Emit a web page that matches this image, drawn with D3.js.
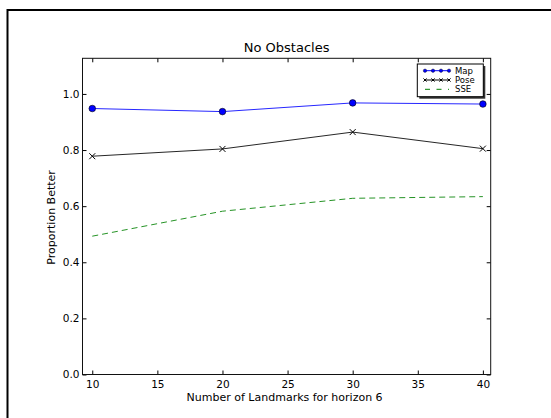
<!DOCTYPE html>
<html>
<head>
<meta charset="utf-8">
<script src="https://cdn.jsdelivr.net/npm/d3@7"></script>
<style>
  html, body { margin: 0; padding: 0; background: #fff; }
  svg { display: block; }
  text { font-family: "DejaVu Sans", sans-serif; fill: #000; }
</style>
</head>
<body>
<svg id="chart" width="551" height="418"></svg>
<script>
// ---- data ----
const landmarks = [10, 20, 30, 40];
const mapValues = [0.948, 0.937, 0.968, 0.964];
const poseValues = [0.778, 0.804, 0.864, 0.805];
const sseValues = [0.493, 0.582, 0.628, 0.634];
const xTicks = [10, 15, 20, 25, 30, 35, 40];
const yTicks = [0.0, 0.2, 0.4, 0.6, 0.8, 1.0];
const seriesNames = ["Map", "Pose", "SSE"];
const titleText = "No Obstacles";
const xLabelText = "Number of Landmarks for horizon 6";
const yLabelText = "Proportion Better";

// ---- layout ----
const svg = d3.select("#chart");
const pL = 82.5, pR = 490.7, pT = 58.3, pB = 374.5;

svg.append("rect").attr("x", 0).attr("y", 0).attr("width", 551).attr("height", 418).attr("fill", "#fff");
// outer figure frame (cropped)
svg.append("rect").attr("x", 7.5).attr("y", 10).attr("width", 560).attr("height", 430)
  .attr("fill", "none").attr("stroke", "#000").attr("stroke-width", 2);

const x = d3.scaleLinear().domain([9.25, 40.6]).range([pL, pR]);
const y = d3.scaleLinear().domain([0, 1.127]).range([pB, pT]);

// axes with inward ticks on all four sides
const tickLen = 4;
const gB = svg.append("g").attr("transform", `translate(0,${pB})`)
  .call(d3.axisBottom(x).tickValues(xTicks).tickFormat(d3.format("d")).tickSizeInner(-tickLen).tickSizeOuter(0).tickPadding(6));
const gT = svg.append("g").attr("transform", `translate(0,${pT})`)
  .call(d3.axisTop(x).tickValues(xTicks).tickFormat("").tickSizeInner(-tickLen).tickSizeOuter(0));
const gL = svg.append("g").attr("transform", `translate(${pL},0)`)
  .call(d3.axisLeft(y).tickValues(yTicks).tickFormat(d3.format(".1f")).tickSizeInner(-tickLen).tickSizeOuter(0).tickPadding(3));
const gR = svg.append("g").attr("transform", `translate(${pR},0)`)
  .call(d3.axisRight(y).tickValues(yTicks).tickFormat("").tickSizeInner(-tickLen).tickSizeOuter(0));
[gB, gT, gL, gR].forEach(g => {
  g.select(".domain").remove();
  g.selectAll(".tick line").attr("stroke", "#000");
  g.selectAll(".tick text").attr("font-size", 10.5).style("font-family", "DejaVu Sans").attr("fill", "#222");
});

// plot frame
svg.append("rect").attr("x", pL).attr("y", pT).attr("width", pR - pL).attr("height", pB - pT)
  .attr("fill", "none").attr("stroke", "#111").attr("stroke-width", 1);

// series
const line = vals => d3.line().x((d, i) => x(landmarks[i])).y(d => y(d))(vals);

svg.append("path").attr("d", line(sseValues)).attr("fill", "none")
  .attr("stroke", "#008000").attr("stroke-width", 1).attr("stroke-dasharray", "6,4").attr("opacity", 0.85);
svg.append("path").attr("d", line(poseValues)).attr("fill", "none")
  .attr("stroke", "#000").attr("stroke-width", 1).attr("opacity", 0.85);
svg.append("path").attr("d", line(mapValues)).attr("fill", "none")
  .attr("stroke", "#0000ff").attr("stroke-width", 1).attr("opacity", 0.85);

// markers
function xMark(g, cx, cy, s) {
  g.append("path").attr("d", `M${cx - s},${cy - s}L${cx + s},${cy + s}M${cx - s},${cy + s}L${cx + s},${cy - s}`)
    .attr("stroke", "#000").attr("stroke-width", 1).attr("fill", "none");
}
const gm = svg.append("g");
poseValues.forEach((v, i) => xMark(gm, x(landmarks[i]), y(v), 3));
mapValues.forEach((v, i) => {
  gm.append("circle").attr("cx", x(landmarks[i])).attr("cy", y(v)).attr("r", 3.3)
    .attr("fill", "#0000ff").attr("stroke", "#000").attr("stroke-width", 0.6);
});

// title and labels
svg.append("text").attr("x", (pL + pR) / 2).attr("y", 52.3).attr("text-anchor", "middle")
  .attr("font-size", 13).attr("fill", "#111").text(titleText);
svg.append("text").attr("x", (pL + pR) / 2 - 2).attr("y", 400.7).attr("text-anchor", "middle")
  .attr("font-size", 11).attr("fill", "#222").text(xLabelText);
svg.append("text").attr("transform", `translate(55,${(pT + pB) / 2 + 1}) rotate(-90)`).attr("text-anchor", "middle")
  .attr("font-size", 11).attr("fill", "#222").text(yLabelText);

// legend
const lx = 417.3, ly = 64, lw = 66, lh = 32.7;
svg.append("rect").attr("x", lx + 2).attr("y", ly + 2).attr("width", lw).attr("height", lh).attr("fill", "#333");
svg.append("rect").attr("x", lx).attr("y", ly).attr("width", lw).attr("height", lh)
  .attr("fill", "#fff").attr("stroke", "#000").attr("stroke-width", 1);
const rows = [70.7, 80, 89.3];
const hx0 = 425, hx1 = 449;
const gl = svg.append("g");
// Map
gl.append("line").attr("x1", hx0).attr("x2", hx1).attr("y1", rows[0]).attr("y2", rows[0]).attr("stroke", "#0000ff");
d3.range(4).forEach(k => gl.append("circle").attr("cx", hx0 + k * 8).attr("cy", rows[0]).attr("r", 1.7)
  .attr("fill", "#0000ff").attr("stroke", "#000").attr("stroke-width", 0.4));
// Pose
gl.append("line").attr("x1", hx0).attr("x2", hx1).attr("y1", rows[1]).attr("y2", rows[1]).attr("stroke", "#000");
d3.range(4).forEach(k => xMark(gl, hx0 + k * 8, rows[1], 1.6));
// SSE
gl.append("line").attr("x1", hx0).attr("x2", hx1).attr("y1", rows[2]).attr("y2", rows[2])
  .attr("stroke", "#008000").attr("stroke-dasharray", "5,6.5");
seriesNames.forEach((n, i) => gl.append("text").attr("x", 455).attr("y", rows[i] + 3).attr("font-size", 8.5)
  .attr("fill", "#222").text(n));
</script>
</body>
</html>
